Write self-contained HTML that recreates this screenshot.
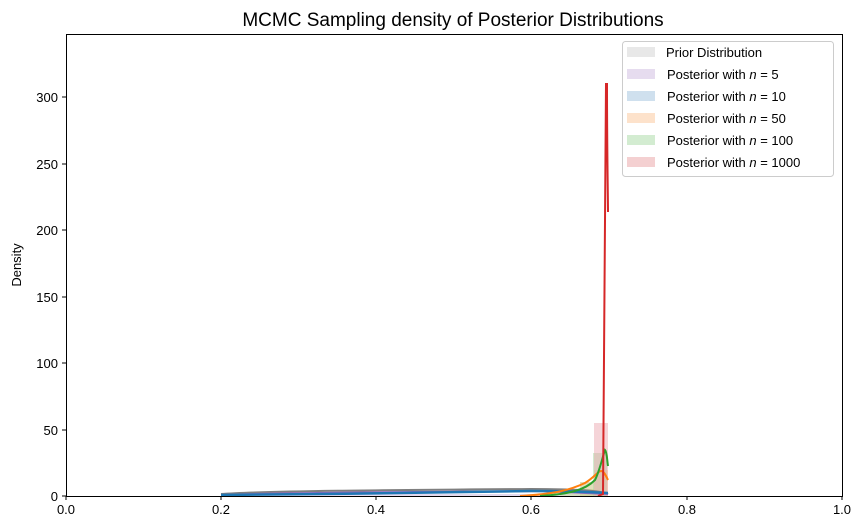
<!DOCTYPE html>
<html><head><meta charset="utf-8"><style>body{margin:0;background:#fff}svg{display:block;font-family:"Liberation Sans","DejaVu Sans",sans-serif}</style></head>
<body><svg width="861" height="530" viewBox="0 0 861 530">
<text x="453" y="26" font-size="19" text-anchor="middle">MCMC Sampling density of Posterior Distributions</text>
<rect x="221" y="494" width="387" height="2" fill="#c8b4dc" opacity="0.5"/>
<rect x="560" y="489" width="34" height="7" fill="#c8dca0" opacity="0.6"/>
<rect x="580" y="482" width="14" height="14" fill="#d0c890" opacity="0.6"/>
<rect x="594" y="470" width="14" height="26" fill="#ffbf80" opacity="0.4"/>
<rect x="593" y="453" width="14" height="43" fill="#a8d8a0" opacity="0.5"/>
<rect x="594" y="423" width="14" height="73" fill="#e8a0a8" opacity="0.45"/>
<path d="M221,494 C260,491 400,490 531,489 C570,489 600,490 608,494" fill="none" stroke="#7f7f7f" stroke-width="2"/>
<path d="M221,495 C300,492 450,492 540,491 L608,494" fill="none" stroke="#9467bd" stroke-width="2"/>
<path d="M221,495 C320,494 450,493 531,491 C560,491 590,492 608,493" fill="none" stroke="#1f77b4" stroke-width="2.5"/>
<path d="M520,496 C555,494 570,490 585,483 C595,477 598,471 601,471 C604,471 606,476 608,480" fill="none" stroke="#ff7f0e" stroke-width="2"/>
<path d="M540,496 C570,494 585,490 595,480 C600,470 603,455 605,450 C607,452 607,460 608,466" fill="none" stroke="#2ca02c" stroke-width="2"/>
<path d="M598,496 L603,494 C604,470 605,300 606,84 L607,84 C607,150 608,200 608,212" fill="none" stroke="#d62728" stroke-width="2"/>
<rect x="66.5" y="34.5" width="776" height="462" fill="none" stroke="#000" stroke-width="1"/>
<g stroke="#000">
<line x1="66" y1="496" x2="66" y2="500"/><line x1="221" y1="496" x2="221" y2="500"/><line x1="376" y1="496" x2="376" y2="500"/><line x1="531" y1="496" x2="531" y2="500"/><line x1="687" y1="496" x2="687" y2="500"/><line x1="842" y1="496" x2="842" y2="500"/>
</g>
<g font-size="13" text-anchor="middle">
<text x="66" y="514">0.0</text><text x="221" y="514">0.2</text><text x="376" y="514">0.4</text><text x="531" y="514">0.6</text><text x="687" y="514">0.8</text><text x="842" y="514">1.0</text>
</g>
<g stroke="#000"><line x1="62" y1="496" x2="66" y2="496"/><line x1="62" y1="430" x2="66" y2="430"/><line x1="62" y1="363" x2="66" y2="363"/><line x1="62" y1="297" x2="66" y2="297"/><line x1="62" y1="230" x2="66" y2="230"/><line x1="62" y1="164" x2="66" y2="164"/><line x1="62" y1="97" x2="66" y2="97"/></g>
<g font-size="13" text-anchor="end">
<text x="58" y="501">0</text><text x="58" y="435">50</text><text x="58" y="368">100</text><text x="58" y="302">150</text><text x="58" y="235">200</text><text x="58" y="169">250</text><text x="58" y="102">300</text>
</g>
<text transform="translate(21,265) rotate(-90)" font-size="13" text-anchor="middle">Density</text>
<rect x="622.5" y="41.5" width="211" height="135" rx="3" fill="#fff" fill-opacity="0.8" stroke="#ccc"/>
<g font-size="13">
<rect x="627" y="47" width="28" height="10" fill="#e8e8e8"/><text x="666" y="57">Prior Distribution</text>
<rect x="627" y="69" width="28" height="10" fill="#e6dcef"/><text x="667" y="79">Posterior with <tspan font-style="italic">n</tspan> = 5</text>
<rect x="627" y="91" width="28" height="10" fill="#cfe0ee"/><text x="667" y="101">Posterior with <tspan font-style="italic">n</tspan> = 10</text>
<rect x="627" y="113" width="28" height="10" fill="#fde2cb"/><text x="667" y="123">Posterior with <tspan font-style="italic">n</tspan> = 50</text>
<rect x="627" y="135" width="28" height="10" fill="#d3ecd1"/><text x="667" y="145">Posterior with <tspan font-style="italic">n</tspan> = 100</text>
<rect x="627" y="157" width="28" height="10" fill="#f4d0d1"/><text x="667" y="167">Posterior with <tspan font-style="italic">n</tspan> = 1000</text>
</g>
</svg></body></html>
